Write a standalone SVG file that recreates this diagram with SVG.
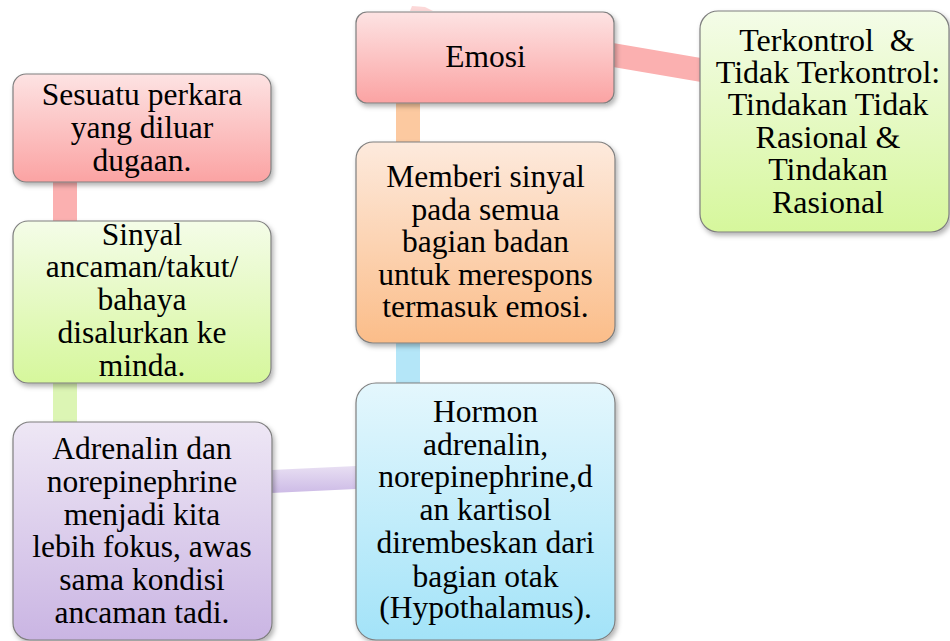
<svg xmlns="http://www.w3.org/2000/svg" width="950" height="641" viewBox="0 0 950 641">
<style>
.box{stroke:#7f7f7f;stroke-width:1.2}
.t{font-family:"Liberation Serif","Times New Roman",serif;font-size:31.5px;fill:#000;text-anchor:middle}
.big{font-size:32px;white-space:pre}
</style>
<defs>
<linearGradient id="gRed" x1="0" y1="0" x2="0" y2="1"><stop offset="0" stop-color="#fde3e3"/><stop offset="1" stop-color="#fba3a3"/></linearGradient>
<linearGradient id="gGreen" x1="0" y1="0" x2="0" y2="1"><stop offset="0" stop-color="#f4fce8"/><stop offset="1" stop-color="#d6f79c"/></linearGradient>
<linearGradient id="gPurple" x1="0" y1="0" x2="0" y2="1"><stop offset="0" stop-color="#eee7f5"/><stop offset="1" stop-color="#cab5e3"/></linearGradient>
<linearGradient id="gBlue" x1="0" y1="0" x2="0" y2="1"><stop offset="0" stop-color="#e4f7fd"/><stop offset="1" stop-color="#a3e3f8"/></linearGradient>
<linearGradient id="gOrange" x1="0" y1="0" x2="0" y2="1"><stop offset="0" stop-color="#fdeadd"/><stop offset="1" stop-color="#fbbd89"/></linearGradient>
<linearGradient id="cPurple" x1="0" y1="0" x2="0" y2="1"><stop offset="0" stop-color="#e8dff3"/><stop offset="1" stop-color="#cdbbe6"/></linearGradient>
<filter id="sh" x="-10%" y="-10%" width="125%" height="125%"><feDropShadow dx="2" dy="3" stdDeviation="2.5" flood-color="#000" flood-opacity="0.3"/></filter>
</defs>
<g id="connectors">
<polygon points="410,11 433,11 425,7 412,6" fill="#fbc8c8" opacity="0.7"/>
<rect x="53" y="182" width="24" height="40" fill="#fbb0b0"/>
<rect x="53" y="383" width="24" height="40" fill="#dcf5b4"/>
<polygon points="271,470 356,466 356,489 271,493" fill="url(#cPurple)"/>
<rect x="396" y="343" width="24" height="41" fill="#b4e6f8"/>
<rect x="396" y="103" width="24" height="40" fill="#fcc9a0"/>
<polygon points="613,43 701,58 701,82 613,67" fill="#fbb0b0"/>
</g>
<g id="n1"><rect class="box" x="13" y="74" width="258" height="108" rx="13" fill="url(#gRed)" filter="url(#sh)"/>
<text class="t" x="142" y="105">Sesuatu perkara</text><text class="t" x="142" y="138">yang diluar</text><text class="t" x="142" y="171">dugaan.</text></g>
<g id="n2"><rect class="box" x="13" y="221" width="258" height="162" rx="15" fill="url(#gGreen)" filter="url(#sh)"/>
<text class="t" x="142" y="245">Sinyal</text><text class="t" x="142" y="277">ancaman/takut/</text><text class="t" x="142" y="310">bahaya</text><text class="t" x="142" y="343">disalurkan ke</text><text class="t" x="142" y="376">minda.</text></g>
<g id="n3"><rect class="box" x="13" y="422" width="259" height="218" rx="17" fill="url(#gPurple)" filter="url(#sh)"/>
<text class="t" x="142" y="459">Adrenalin dan</text><text class="t" x="142" y="492">norepinephrine</text><text class="t" x="142" y="525">menjadi kita</text><text class="t" x="142" y="557">lebih fokus, awas</text><text class="t" x="142" y="590">sama kondisi</text><text class="t" x="142" y="623">ancaman tadi.</text></g>
<g id="n4"><rect class="box" x="356" y="383" width="259" height="257" rx="20" fill="url(#gBlue)" filter="url(#sh)"/>
<text class="t" x="485.5" y="422">Hormon</text><text class="t" x="485.5" y="455">adrenalin,</text><text class="t" x="485.5" y="487">norepinephrine,d</text><text class="t" x="485.5" y="520">an kartisol</text><text class="t" x="485.5" y="553">dirembeskan dari</text><text class="t" x="485.5" y="587">bagian otak</text><text class="t" x="485.5" y="618">(Hypothalamus).</text></g>
<g id="n5"><rect class="box" x="356" y="142" width="259" height="201" rx="17" fill="url(#gOrange)" filter="url(#sh)"/>
<text class="t" x="485.5" y="187">Memberi sinyal</text><text class="t" x="485.5" y="220">pada semua</text><text class="t" x="485.5" y="252">bagian badan</text><text class="t" x="485.5" y="285">untuk merespons</text><text class="t" x="485.5" y="317">termasuk emosi.</text></g>
<g id="n6"><rect class="box" x="356" y="12" width="258" height="91" rx="11" fill="url(#gRed)" filter="url(#sh)"/>
<text class="t" x="485.5" y="67">Emosi</text></g>
<g id="n7"><rect class="box" x="700" y="11" width="249" height="221" rx="18" fill="url(#gGreen)" filter="url(#sh)"/>
<text class="t big" x="827" y="51">Terkontrol  &amp;</text><text class="t big" x="828" y="83">Tidak Terkontrol:</text><text class="t big" x="828" y="115">Tindakan Tidak</text><text class="t big" x="828" y="148">Rasional &amp;</text><text class="t big" x="828" y="180">Tindakan</text><text class="t big" x="828" y="213">Rasional</text></g>
</svg>
